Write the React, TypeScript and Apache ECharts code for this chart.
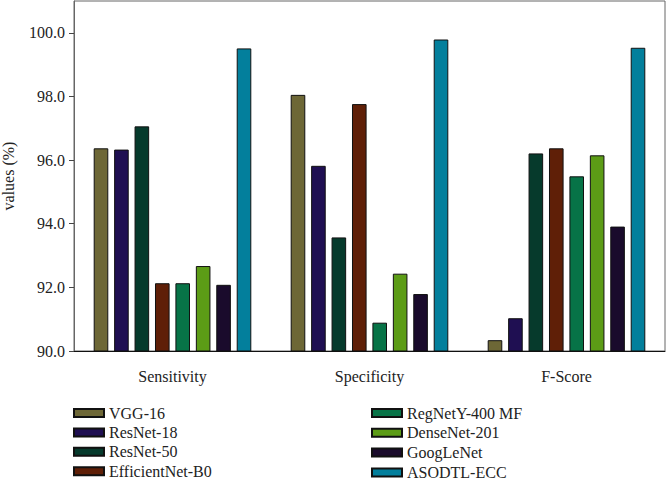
import React, { useEffect, useRef } from "react";
import * as echarts from "echarts";

const categories = ["Sensitivity", "Specificity", "F-Score"];
const models = [
  "VGG-16",
  "ResNet-18",
  "ResNet-50",
  "EfficientNet-B0",
  "RegNetY-400 MF",
  "DenseNet-201",
  "GoogLeNet",
  "ASODTL-ECC",
];
const colors = [
  "#6d6736",
  "#1f0f52",
  "#063a2c",
  "#5f1f07",
  "#077347",
  "#5c9c16",
  "#1a0b2c",
  "#037f9c",
];
const vgg16 = [96.37, 98.05, 90.34];
const resnet18 = [96.33, 95.82, 91.03];
const resnet50 = [97.06, 93.57, 96.21];
const efficientnetB0 = [92.13, 97.76, 96.37];
const regnetY400 = [92.13, 90.89, 95.49];
const densenet201 = [92.67, 92.43, 96.15];
const googlenet = [92.08, 91.79, 93.91];
const asodtlEcc = [99.51, 99.79, 99.53];
const seriesValues = [
  vgg16,
  resnet18,
  resnet50,
  efficientnetB0,
  regnetY400,
  densenet201,
  googlenet,
  asodtlEcc,
];
const yTicks = [90, 92, 94, 96, 98, 100];

const FONT = "'Liberation Serif', 'DejaVu Serif', serif";

export default function App() {
  const ref = useRef<HTMLDivElement>(null);
  useEffect(() => {
    if (!ref.current) return;
    const chart = echarts.init(ref.current, undefined, { renderer: "svg" });
    const legendText = { fontFamily: FONT, fontSize: 16, color: "#222", lineHeight: 16 };
    chart.setOption({
      animation: false,
      backgroundColor: "#fff",
      textStyle: { fontFamily: FONT },
      grid: {
        left: 74,
        right: 4,
        top: 1,
        bottom: 129,
        show: true,
        borderColor: "#666",
        borderWidth: 1,
        containLabel: false,
        outerBoundsMode: "none",
      },
      legend: [
        {
          orient: "vertical",
          left: 73,
          top: 405,
          height: 90,
          padding: 0,
          icon: "rect",
          itemWidth: 30,
          itemHeight: 8,
          itemGap: 3.4,
          textStyle: legendText,
          data: models.slice(0, 4),
        },
        {
          orient: "vertical",
          left: 371,
          top: 405,
          height: 90,
          padding: 0,
          icon: "rect",
          itemWidth: 30,
          itemHeight: 8,
          itemGap: 3.8,
          textStyle: legendText,
          data: models.slice(4),
        },
      ],
      xAxis: {
        type: "category",
        data: categories,
        axisLine: { lineStyle: { color: "#111", width: 1 } },
        axisTick: { alignWithLabel: true, length: 5, lineStyle: { color: "#111" } },
        axisLabel: { fontFamily: FONT, fontSize: 16, color: "#222", margin: 17 },
      },
      yAxis: {
        type: "value",
        min: 90,
        max: 101,
        interval: 2,
        name: "values (%)",
        nameLocation: "middle",
        nameGap: 58,
        nameTextStyle: { fontFamily: FONT, fontSize: 16, color: "#222" },
        axisLine: { show: true, lineStyle: { color: "#666", width: 1 } },
        axisTick: { show: true, length: 5, customValues: yTicks, lineStyle: { color: "#444" } },
        axisLabel: {
          fontFamily: FONT,
          fontSize: 16,
          color: "#222",
          margin: 9,
          customValues: yTicks,
          formatter: (v: number) => v.toFixed(1),
        },
        splitLine: { show: false },
      },
      series: models.map((name, i) => ({
        name,
        type: "bar",
        data: seriesValues[i],
        barGap: "40%",
        barCategoryGap: "20%",
        itemStyle: { color: colors[i], borderColor: "#111", borderWidth: 1 },
      })),
    });
    return () => chart.dispose();
  }, []);
  return (
    <div
      ref={ref}
      style={{ position: "fixed", left: 0, top: 0, width: 669, height: 480 }}
    />
  );
}
